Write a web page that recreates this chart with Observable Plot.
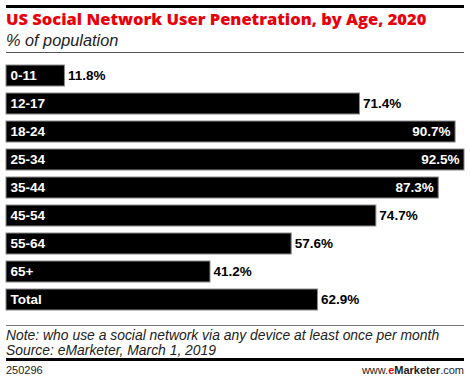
<!DOCTYPE html>
<html>
<head>
<meta charset="utf-8">
<script src="https://cdn.jsdelivr.net/npm/d3@7"></script>
<script src="https://cdn.jsdelivr.net/npm/@observablehq/plot@0.6"></script>
<style>
  html, body { margin: 0; padding: 0; background: #fff; }
  #wrap { position: relative; width: 470px; height: 382px; overflow: hidden; font-family: "Liberation Sans", Arial, sans-serif; }
  .rule { position: absolute; left: 6px; width: 458px; }
  #title { position: absolute; left: 6px; top: 9px; font-family: "Open Sans", sans-serif; font-size: 16.5px; font-weight: 800; color: #e8000b; white-space: nowrap; line-height: 20px; }
  #subtitle { position: absolute; left: 6px; top: 31px; font-size: 16.3px; font-style: italic; color: #222; white-space: nowrap; line-height: 18px; }
  #chart { position: absolute; left: 0; top: 56px; }
  #note { position: absolute; left: 6px; top: 328px; font-size: 13.9px; font-style: italic; color: #222; white-space: nowrap; line-height: 14.5px; }
  #id { position: absolute; left: 6px; top: 364px; font-size: 11px; color: #222; }
  #site { position: absolute; right: 6px; top: 364px; font-size: 11px; color: #222; }
</style>
</head>
<body>
<div id="wrap">
  <div class="rule" style="top:5px;height:3px;background:#000"></div>
  <div id="title">US Social Network User Penetration, by Age, 2020</div>
  <div id="subtitle">% of population</div>
  <div class="rule" style="top:52px;height:1px;background:#555"></div>
  <div id="chart"></div>
  <div class="rule" style="top:325px;height:1px;background:#777"></div>
  <div id="note">Note: who use a social network via any device at least once per month<br>Source: eMarketer, March 1, 2019</div>
  <div class="rule" style="top:358px;height:3px;background:#000"></div>
  <div id="id">250296</div>
  <div id="site">www.<b style="color:#e8000b">e</b><b>Marketer</b>.com</div>
</div>
<script>
const categories = ["0-11", "12-17", "18-24", "25-34", "35-44", "45-54", "55-64", "65+", "Total"];
const values = [11.8, 71.4, 90.7, 92.5, 87.3, 74.7, 57.6, 41.2, 62.9];

const data = categories.map((c, i) => ({category: c, value: values[i], label: values[i].toFixed(1) + "%"}));
const inside = data.filter(d => d.value > 80);
const outside = data.filter(d => d.value <= 80);

const chart = Plot.plot({
  width: 470,
  height: 266,
  marginLeft: 6,
  marginRight: 6,
  marginTop: 1,
  marginBottom: 3,
  x: {domain: [0, 92.5], axis: null},
  y: {domain: categories, axis: null, padding: 0.24},
  style: {fontFamily: "'Liberation Sans', Arial, sans-serif", background: "transparent"},
  marks: [
    Plot.barX(data, {y: "category", x: "value", fill: "#000", stroke: "#8a8a8a", strokeWidth: 1}),
    Plot.text(data, {y: "category", x: 0, text: "category", textAnchor: "start", dx: 4, fill: "#fff", fontWeight: "bold", fontSize: 13.5}),
    Plot.text(inside, {y: "category", x: "value", text: "label", textAnchor: "end", dx: -5, fill: "#fff", fontWeight: "bold", fontSize: 13.5}),
    Plot.text(outside, {y: "category", x: "value", text: "label", textAnchor: "start", dx: 3, fill: "#000", fontWeight: "bold", fontSize: 13.5})
  ]
});
document.getElementById("chart").appendChild(chart);
</script>
</body>
</html>
